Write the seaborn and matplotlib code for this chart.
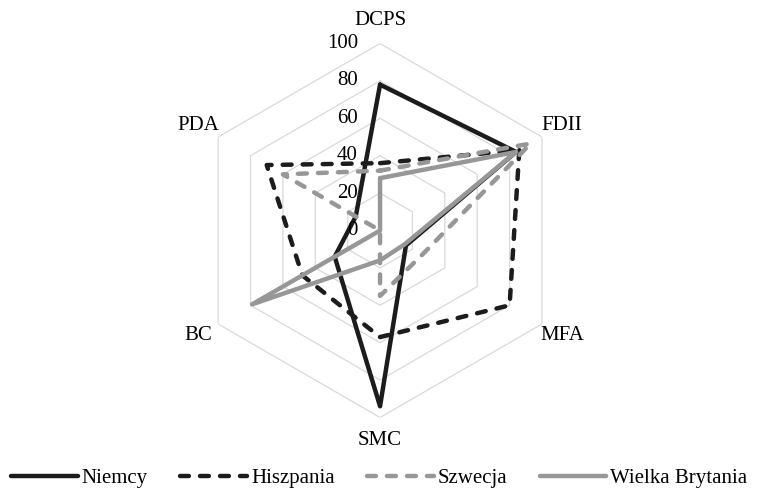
import numpy as np
import pandas as pd
import matplotlib
matplotlib.use("Agg")
import matplotlib.pyplot as plt
import seaborn as sns

# dane
categories = ['DCPS', 'FDII', 'MFA', 'SMC', 'BC', 'PDA']
niemcy = [78, 84, 16, 94, 28, 15]
hiszpania = [36, 86, 80, 57, 48, 70]
szwecja = [32, 93, 26, 35, 0, 60]
wielka_brytania = [28, 84, 15, 16, 79, 0]
series_names = ['Niemcy', 'Hiszpania', 'Szwecja', 'Wielka Brytania']
r_ticks = [0, 20, 40, 60, 80, 100]

plt.rcParams['font.family'] = ['Liberation Serif', 'DejaVu Serif']

black = '#1c1c1c'
gray = '#979797'
dashed = (0, (2.0, 2.5))
styles = {
    'Niemcy': dict(color=black, linestyle='-'),
    'Hiszpania': dict(color=black, linestyle=dashed),
    'Szwecja': dict(color=gray, linestyle=dashed),
    'Wielka Brytania': dict(color=gray, linestyle='-'),
}

n = len(categories)
angles = np.linspace(0, 2 * np.pi, n, endpoint=False)
angles_closed = np.append(angles, 2 * np.pi)

fig = plt.figure(figsize=(7.63, 4.97), dpi=100)
ax = fig.add_axes([0.2530, 0.1600, 0.4902, 0.7525], projection='polar')
ax.set_theta_zero_location('N')
ax.set_theta_direction(-1)
ax.set_ylim(0, 100)

# siatka w ksztalcie szesciokata
for v in r_ticks[1:]:
    ax.plot(angles_closed, [v] * (n + 1), color='#d9d9d9', lw=0.9, zorder=1)

for name, vals in zip(series_names, [niemcy, hiszpania, szwecja, wielka_brytania]):
    df = pd.DataFrame({'theta': angles_closed, 'r': vals + vals[:1]})
    sns.lineplot(data=df, x='theta', y='r', ax=ax, sort=False, estimator=None,
                 lw=3.2, label=name, dash_capstyle='round', solid_capstyle='round',
                 zorder=3, **styles[name])

if ax.get_legend() is not None:
    ax.get_legend().remove()

ax.grid(False)
ax.spines['polar'].set_visible(False)
ax.set_xticks([])
ax.set_yticks([])
ax.set_xlabel('')
ax.set_ylabel('')

for ang, lab in zip(angles, categories):
    ax.text(ang, 112.5, lab, ha='center', va='center', fontsize=15)

for v in r_ticks:
    ax.annotate(str(v), xy=(0, v), xytext=(-16, 0), textcoords='offset points',
                ha='right', va='center', fontsize=15)

handles, labels = ax.get_legend_handles_labels()
fig.legend(handles, labels, loc='center', bbox_to_anchor=(0.497, 0.038), ncol=4,
           frameon=False, fontsize=15, handlelength=3.2, handletextpad=0.2,
           columnspacing=1.55)

fig.savefig('out.png', dpi=100)
